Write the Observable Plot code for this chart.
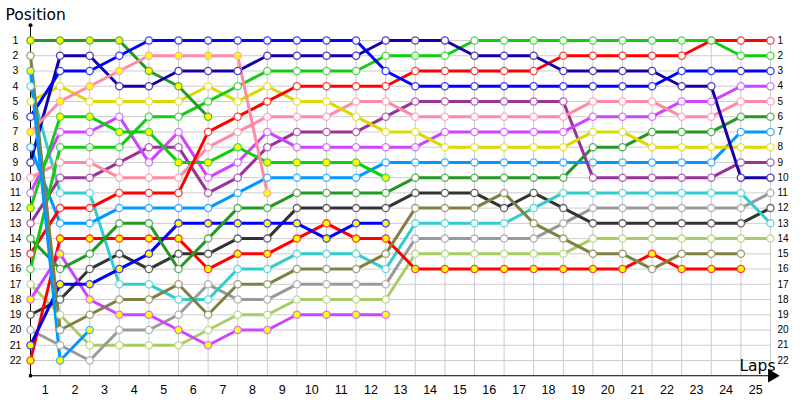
<!DOCTYPE html>
<html>
<head>
<meta charset="utf-8">
<script src="https://cdn.jsdelivr.net/npm/d3@7"></script>
<script src="https://cdn.jsdelivr.net/npm/@observablehq/plot@0.6"></script>
<style>
  html, body { margin: 0; padding: 0; background: #ffffff; }
  #chart svg { display: block; }
</style>
</head>
<body>
<div id="chart"></div>
<script>
// ---- Data ----
const laps = [0,1,2,3,4,5,6,7,8,9,10,11,12,13,14,15,16,17,18,19,20,21,22,23,24,25];
const lapTicks = [1,2,3,4,5,6,7,8,9,10,11,12,13,14,15,16,17,18,19,20,21,22,23,24,25];
const positions = [1,2,3,4,5,6,7,8,9,10,11,12,13,14,15,16,17,18,19,20,21,22];

// positions per lap (index = lap, starting at lap 0 = grid)
const dkGreenY  = [1,1,1,1,3,4,6];
const dkGreen   = [14,16,15,13,13,16,14,12,12,11,11,11,11,10,10,10,10,10,10,8,8,7,7,7,6,6];
const brGreenY  = [12,6,6,7,7,9,9,8,9,9,9,9,10];
const brGreen   = [16,8,8,8,6,6,5,4,3,3,3,3,2,2,2,1,1,1,1,1,1,1,1,1,2,2];
const blueW     = [6,3,3,2,1,1,1,1,1,1,1,1,3,4,4,4,4,4,4,4,4,4,3,3,3,3];
const blueY     = [21,17,17,16,15,13,13,13,13,13,14,13,13];
const navyW     = [9,2,2,4,4,3,3,3,2,2,2,2,1,1,1,2,2,2,3,3,3,3,4,4,10,10];
const redW      = [15,12,12,11,11,11,7,6,5,4,4,4,4,3,3,3,3,3,2,2,2,2,2,1,1,1];
const redY      = [22,14,14,14,14,14,16,15,15,14,13,14,14,16,16,16,16,16,16,16,16,15,16,16,16];
const pinkW     = [10,9,9,10,10,10,8,7,6,6,6,5,5,6,6,6,6,6,6,5,5,5,6,6,5,5];
const pinkY     = [7,5,4,3,2,2,2,2,11];
const yellowW   = [5,4,5,5,5,5,4,5,4,5,5,6,7,7,8,8,8,8,8,7,7,8,8,8,8,8];
const ltPurple  = [11,7,7,6,9,7,10,9,7,8,8,8,8,8,7,7,7,7,7,6,6,6,5,5,4,4];
const ltPurpleY = [18,15,18,19,19,20,21,20,20,19,19,19,19];
const dkPurple  = [13,10,10,9,8,8,11,10,8,7,7,7,6,5,5,5,5,5,5,10,10,10,10,10,9,9];
const ltBlue    = [8,13,13,12,12,12,12,11,10,10,10,10,9,9,9,9,9,9,9,9,9,9,9,9,7,7];
const ltBlueY   = [3,22,20];
const cyanW     = [4,11,11,17,17,18,18,16,16,15,15,15,16,13,13,13,13,12,11,11,11,11,11,11,11,13];
const dkGrey    = [19,18,16,15,16,15,15,14,14,12,12,12,12,11,11,11,12,11,12,13,13,13,13,13,13,12];
const olive     = [2,20,19,18,18,17,19,17,17,16,16,16,15,12,12,12,11,13,14,15,15,16,15,15,15];
const greyW     = [20,21,22,20,20,19,17,18,18,17,17,17,17,14,14,14,14,14,13,12,12,12,12,12,12,11];
const ltGreen   = [17,19,21,21,21,21,20,19,19,18,18,18,18,15,15,15,15,15,15,14,14,14,14,14,14,14];

const drivers = [
  {id: "ltGreen",   color: "#a8cc66", yellow: false, pos: ltGreen},
  {id: "greyW",     color: "#999999", yellow: false, pos: greyW},
  {id: "dkGrey",    color: "#333333", yellow: false, pos: dkGrey},
  {id: "cyanW",     color: "#33cccc", yellow: false, pos: cyanW},
  {id: "ltPurpleY", color: "#cc44ff", yellow: true,  pos: ltPurpleY},
  {id: "redY",      color: "#ff0000", yellow: true,  pos: redY},
  {id: "blueY",     color: "#0000ff", yellow: true,  pos: blueY},
  {id: "dkGreen",   color: "#239823", yellow: false, pos: dkGreen},
  {id: "ltBlue",    color: "#0099ff", yellow: false, pos: ltBlue},
  {id: "dkPurple",  color: "#993399", yellow: false, pos: dkPurple},
  {id: "ltPurple",  color: "#cc44ff", yellow: false, pos: ltPurple},
  {id: "pinkW",     color: "#ff8aa6", yellow: false, pos: pinkW},
  {id: "yellowW",   color: "#dcd800", yellow: false, pos: yellowW},
  {id: "brGreenY",  color: "#11cc11", yellow: true,  pos: brGreenY},
  {id: "redW",      color: "#ff0000", yellow: false, pos: redW},
  {id: "brGreen",   color: "#11cc11", yellow: false, pos: brGreen},
  {id: "dkGreenY",  color: "#239823", yellow: true,  pos: dkGreenY},
  {id: "navyW",     color: "#1400aa", yellow: false, pos: navyW},
  {id: "blueW",     color: "#0000ff", yellow: false, pos: blueW},
  {id: "pinkY",     color: "#ff8aa6", yellow: true,  pos: pinkY},
  {id: "olive",     color: "#808044", yellow: false, pos: olive},
  {id: "ltBlueY",   color: "#0099ff", yellow: true,  pos: ltBlueY}
];

const rows = [];
for (const d of drivers) {
  d.pos.forEach((p, i) => rows.push({
    id: d.id, lap: laps[i], pos: p, color: d.color,
    outline: d3.interpolateRgb(d.color, "#ffffff")(0.25),
    fill: d.yellow ? "#ffff00" : "#ffffff"
  }));
}

const tickFont = "Liberation Sans, Arial, sans-serif";
const titleFont = "DejaVu Sans, Verdana, sans-serif";

const chart = Plot.plot({
  width: 800,
  height: 400,
  margin: 0,
  style: {background: "#ffffff", overflow: "visible"},
  x: {domain: [0, 25], range: [30, 770], axis: null},
  y: {domain: [0, 23], range: [24.76, 375.24], axis: null},
  marks: [
    // grid
    Plot.ruleY(positions, {x1: 0, x2: 25, stroke: "#cccccc", strokeWidth: 1}),
    Plot.ruleX(lapTicks, {y1: 1, y2: 23, stroke: "#cccccc", strokeWidth: 1}),
    // axes
    Plot.ruleX([0], {y1: 0, y2: 23, stroke: "#000000", strokeWidth: 1}),
    Plot.ruleY([23], {x1: 0, x2: 25.1, stroke: "#000000", strokeWidth: 1}),
    Plot.dot([0], {x: 0, y: 0, r: 2, fill: "#000000", stroke: null}),
    Plot.dot([0], {x: 0, y: 23, r: 1.8, symbol: "square", fill: "#000000", stroke: null}),
    Plot.dot([0], {x: 25.05, y: 23, r: 5, symbol: "triangle", rotate: 90, fill: "#000000", stroke: null}),
    // series
    Plot.line(rows, {x: "lap", y: "pos", z: "id", stroke: "color", strokeWidth: 3, strokeLinejoin: "round", curve: "linear"}),
    Plot.dot(rows, {x: "lap", y: "pos", r: 3.6, fill: "fill", stroke: "outline", strokeWidth: 1.3}),
    // y labels left & right
    Plot.text(positions, {x: 0, y: d => d, text: d => String(d), dx: -15, textAnchor: "middle", fontSize: 10.5, fontFamily: tickFont, fill: "#000000"}),
    Plot.text(positions, {x: 25, y: d => d, text: d => String(d), dx: 7, textAnchor: "start", fontSize: 10, fontFamily: tickFont, fill: "#000000"}),
    // x labels
    Plot.text(lapTicks, {x: d => d - 0.5, y: 23, text: d => String(d), dy: 14, textAnchor: "middle", fontSize: 12.5, fontFamily: tickFont, fill: "#000000"}),
    // titles
    Plot.text(["Position"], {frameAnchor: "top-left", dx: 5, dy: 8, textAnchor: "start", lineAnchor: "top", fontSize: 15.5, fontFamily: titleFont, fill: "#000000"}),
    Plot.text(["Laps"], {x: 25, y: 23, dx: 5, dy: -5, textAnchor: "end", lineAnchor: "bottom", fontSize: 15.5, fontFamily: titleFont, fill: "#000000"})
  ]
});
document.getElementById("chart").appendChild(chart);
</script>
</body>
</html>
